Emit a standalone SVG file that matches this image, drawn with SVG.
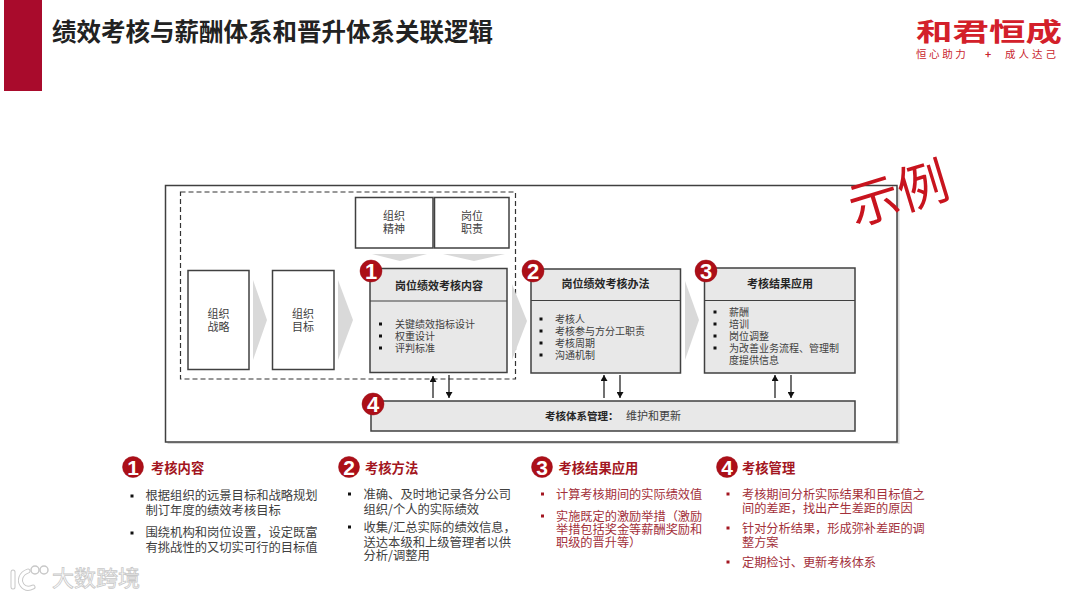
<svg xmlns="http://www.w3.org/2000/svg" width="1080" height="598" viewBox="0 0 1080 598">
<defs>
<style>
text{font-family:"Noto Sans CJK SC","Liberation Sans",sans-serif}
.box{fill:#fff;stroke:#404040;stroke-width:1.5}
.gbox{fill:#e8e8e8;stroke:#404040;stroke-width:1.5}
.chev{fill:#d9d9d9}
.lab{font-size:11px;fill:#404040;text-anchor:middle}
.hd{font-size:11px;font-weight:700;fill:#262626;text-anchor:middle}
.it{font-size:10px;fill:#404040}
.bul{fill:#111}
.bn{fill:#fff;font-family:"Liberation Sans",sans-serif;font-weight:700;text-anchor:middle}
.bd{fill:#ac0f18;stroke:#9a0f18;stroke-width:.5}
.lh{font-size:13.3px;font-weight:700;fill:#a31621}
.lt{font-size:12.3px;fill:#404040}
.lr{font-size:12.2px;fill:#a3303a}
.conn{stroke:#262626;stroke-width:1.3;fill:none;marker-end:url(#ah)}
</style>
<marker id="ah" markerUnits="userSpaceOnUse" markerWidth="7" markerHeight="7" refX="6" refY="3.5" orient="auto"><path d="M0 0L6 3.5L0 7z" fill="#111"/></marker>
</defs>
<rect width="1080" height="598" fill="#fff"/>
<g id="header">
<rect x="4" y="0" width="38" height="91" fill="#a90b2c"/>
<text x="52" y="41" font-size="24.5" font-weight="700" fill="#222">绩效考核与薪酬体系和晋升体系关联逻辑</text>
</g>
<g id="logo">
<text transform="translate(916 41) scale(1.46 1)" font-size="25" font-weight="700" fill="#d3202a">和君恒成</text>
<text x="916" y="58" font-size="10.5" fill="#c9252d" letter-spacing="2.6">恒心助力</text>
<text x="985" y="58" font-size="10.5" font-weight="700" fill="#c9252d">+</text>
<text x="1005" y="58" font-size="10.5" fill="#c9252d" letter-spacing="3">成人达己</text>
</g>
<g id="frame">
<rect x="167.500" y="187.500" width="732" height="256.500" fill="#d9d9d9"/>
<rect x="165.500" y="185.500" width="731.500" height="256.500" fill="#fff" stroke="#404040" stroke-width="1.500"/>
<rect x="180.500" y="192" width="335" height="187" fill="none" stroke="#333" stroke-width="1.200" stroke-dasharray="5 3"/>
</g>
<g id="chevrons">
<path class="chev" d="M253 280L267 320L253 360z"/>
<path class="chev" d="M338 280L353 320L338 360z"/>
<path class="chev" d="M512 284L527 321L512 360z"/>
<path class="chev" d="M685 281L699 320L685 360z"/>
<path class="chev" d="M372 254L427 254L400 261z"/>
<path class="chev" d="M443 254L505 254L474 261z"/>
</g>
<g id="node-org-strategy"><rect class="box" x="188" y="270.500" width="61" height="99"/><text class="lab" x="218.500" y="318">组织</text><text class="lab" x="218.500" y="331">战略</text></g>
<g id="node-org-goal"><rect class="box" x="272.500" y="270.500" width="61.500" height="99"/><text class="lab" x="303" y="318">组织</text><text class="lab" x="303" y="331">目标</text></g>
<g id="node-org-spirit"><rect class="box" x="355.500" y="197.500" width="77.500" height="50.500"/><text class="lab" x="394" y="220">组织</text><text class="lab" x="394" y="233">精神</text></g>
<g id="node-job-duty"><rect class="box" x="434.500" y="197.500" width="74.500" height="50.500"/><text class="lab" x="472" y="220">岗位</text><text class="lab" x="472" y="233">职责</text></g>
<g id="node-1">
<rect class="gbox" x="370" y="268.500" width="137" height="104"/><path d="M370 301H507" stroke="#404040" stroke-width="1.200"/>
<text class="hd" x="439" y="290">岗位绩效考核内容</text>
<g class="bul"><rect x="379" y="322.500" width="3" height="3"/><rect x="379" y="334.500" width="3" height="3"/><rect x="379" y="346.500" width="3" height="3"/></g>
<text class="it" x="395" y="327.500">关键绩效指标设计</text><text class="it" x="395" y="340">权重设计</text><text class="it" x="395" y="352">评判标准</text>
<circle class="bd" cx="371" cy="271" r="11"/><text class="bn" x="371" y="279" font-size="22">1</text>
</g>
<g id="node-2">
<rect class="gbox" x="531" y="269" width="149.500" height="104"/><path d="M531 300.500H680.500" stroke="#404040" stroke-width="1.200"/>
<text class="hd" x="605.500" y="288">岗位绩效考核办法</text>
<g class="bul"><rect x="539.500" y="317.500" width="3" height="3"/><rect x="539.500" y="329.500" width="3" height="3"/><rect x="539.500" y="341.500" width="3" height="3"/><rect x="539.500" y="353.500" width="3" height="3"/></g>
<text class="it" x="555" y="322.500">考核人</text><text class="it" x="555" y="334.500">考核参与方分工职责</text><text class="it" x="555" y="346.500">考核周期</text><text class="it" x="555" y="358.500">沟通机制</text>
<circle class="bd" cx="533" cy="271" r="11"/><text class="bn" x="533" y="279" font-size="22">2</text>
</g>
<g id="node-3">
<rect class="gbox" x="704.500" y="268" width="150.500" height="105"/><path d="M704.500 300.500H855" stroke="#404040" stroke-width="1.200"/>
<text class="hd" x="780" y="288">考核结果应用</text>
<g class="bul"><rect x="713.500" y="310.500" width="3" height="3"/><rect x="713.500" y="322.500" width="3" height="3"/><rect x="713.500" y="334.500" width="3" height="3"/><rect x="713.500" y="346.500" width="3" height="3"/></g>
<text class="it" x="729" y="315.500">薪酬</text><text class="it" x="729" y="327.500">培训</text><text class="it" x="729" y="339.500">岗位调整</text><text class="it" x="729" y="351.500">为改善业务流程、管理制</text><text class="it" x="729" y="363.500">度提供信息</text>
<circle class="bd" cx="706" cy="271" r="11"/><text class="bn" x="706" y="279" font-size="22">3</text>
</g>
<g id="node-4">
<rect class="gbox" x="371" y="401" width="484" height="30"/>
<text x="545" y="420" font-size="10.500" font-weight="700" fill="#262626">考核体系管理：</text><text x="626" y="420" font-size="11" fill="#404040">维护和更新</text>
<circle class="bd" cx="373" cy="404" r="11"/><text class="bn" x="373" y="412" font-size="22">4</text>
</g>
<g id="connectors">
<path class="conn" d="M433 398V376"/><path class="conn" d="M449 375V398"/>
<path class="conn" d="M604 398V375"/><path class="conn" d="M620 375V398"/>
<path class="conn" d="M775 398V375"/><path class="conn" d="M791 375V398"/>
</g>
<g id="stamp"><text x="0" y="0" transform="translate(855 226) rotate(-17)" font-size="51" fill="#c8141e">示例</text></g>
<g id="legend-1">
<circle class="bd" cx="133" cy="467" r="10.500"/><text class="bn" x="133" y="474.500" font-size="21">1</text>
<text class="lh" x="151" y="473">考核内容</text>
<g class="bul"><rect x="130.500" y="494.500" width="3" height="3"/><rect x="130.500" y="531.500" width="3" height="3"/></g>
<text class="lt" x="145.500" y="500">根据组织的远景目标和战略规划</text><text class="lt" x="145.500" y="515">制订年度的绩效考核目标</text>
<text class="lt" x="145.500" y="537">围绕机构和岗位设置，设定既富</text><text class="lt" x="145.500" y="552">有挑战性的又切实可行的目标值</text>
</g>
<g id="legend-2">
<circle class="bd" cx="349" cy="467" r="10.500"/><text class="bn" x="349" y="474.500" font-size="21">2</text>
<text class="lh" x="365" y="473">考核方法</text>
<g class="bul"><rect x="348" y="492.500" width="3" height="3"/><rect x="348" y="525.500" width="3" height="3"/></g>
<text class="lt" x="363.500" y="498.500">准确、及时地记录各分公司</text><text class="lt" x="363.500" y="514">组织/个人的实际绩效</text>
<text class="lt" x="363.500" y="531.500">收集/汇总实际的绩效信息，</text><text class="lt" x="363.500" y="546.500">送达本级和上级管理者以供</text><text class="lt" x="363.500" y="559.500">分析/调整用</text>
</g>
<g id="legend-3">
<circle class="bd" cx="542" cy="467" r="10.500"/><text class="bn" x="542" y="474.500" font-size="21">3</text>
<text class="lh" x="558.500" y="473">考核结果应用</text>
<g fill="#a31621"><rect x="541" y="492.500" width="3" height="3"/><rect x="541" y="514.500" width="3" height="3"/></g>
<text class="lr" x="556" y="498.500">计算考核期间的实际绩效值</text>
<text class="lr" x="556" y="520.500">实施既定的激励举措（激励</text><text class="lr" x="556" y="533.500">举措包括奖金等薪酬奖励和</text><text class="lr" x="556" y="546.500">职级的晋升等）</text>
</g>
<g id="legend-4">
<circle class="bd" cx="727" cy="467" r="10.500"/><text class="bn" x="727" y="474.500" font-size="21">4</text>
<text class="lh" x="742" y="473">考核管理</text>
<g fill="#a31621"><rect x="726.500" y="492.500" width="3" height="3"/><rect x="726.500" y="526.500" width="3" height="3"/><rect x="726.500" y="560.500" width="3" height="3"/></g>
<text class="lr" x="742" y="498.500">考核期间分析实际结果和目标值之</text><text class="lr" x="742" y="512.500">间的差距，找出产生差距的原因</text>
<text class="lr" x="742" y="532.500">针对分析结果，形成弥补差距的调</text><text class="lr" x="742" y="546.500">整方案</text>
<text class="lr" x="742" y="566.500">定期检讨、更新考核体系</text>
</g>
<g id="watermark">
<g fill="none" stroke="#c8c8c8" stroke-width="5" stroke-linecap="round"><path d="M13 572V587"/><path d="M28 571C20 574 19 581 22 585C25 589 29 589 33 587"/></g>
<g fill="none" stroke="#fff" stroke-width="3" stroke-linecap="round"><path d="M13 572V587"/><path d="M28 571C20 574 19 581 22 585C25 589 29 589 33 587"/></g>
<circle cx="35" cy="570" r="4" fill="#fff" stroke="#c8c8c8" stroke-width="1.500"/><circle cx="44" cy="570" r="4" fill="#fff" stroke="#c8c8c8" stroke-width="1.500"/>
<text x="52" y="586" font-size="22" fill="#fff" stroke="#c8c8c8" stroke-width=".8">大数跨境</text>
</g>
</svg>
